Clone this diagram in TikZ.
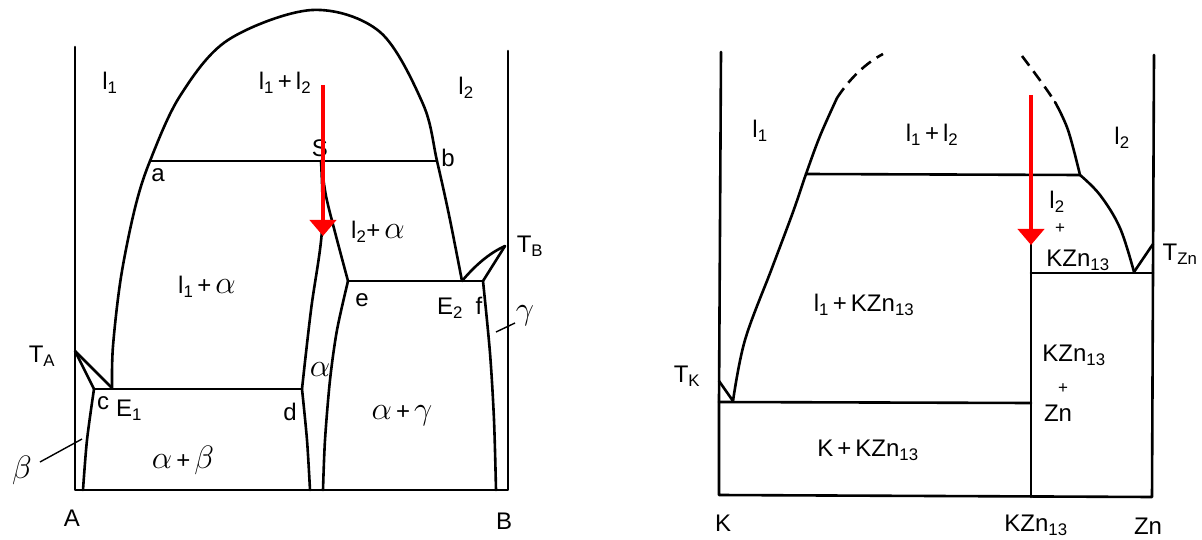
\documentclass[tikz,border=0pt]{standalone}
\usepackage{fontspec}
\usepackage{graphicx}
\setmainfont{Liberation Sans}
\usetikzlibrary{arrows.meta}
\tikzset{
  phase/.style={line width=2.6pt, line join=round, line cap=round},
  dashcurve/.style={line width=2.6pt, dash pattern=on 12pt off 7pt},
  thinlead/.style={line width=1.4pt},
  lbl/.style={font=\fontsize{24}{27}\selectfont, inner sep=0pt},
  redarrow/.style={draw={rgb,255:red,255;green,0;blue,0}, line width=4pt, -{Triangle[width=26pt,length=16pt]}}
}
\newcommand{\sbs}[1]{\textsubscript{#1}}
\newcommand{\gra}{\scalebox{1.3}{$\alpha$}}
\newcommand{\grb}{\scalebox{1.3}{$\beta$}}
\newcommand{\grg}{\scalebox{1.3}{$\gamma$}}
\begin{document}
\begin{tikzpicture}[x=1pt,y=-1pt]
\useasboundingbox (0,0) rectangle (1202,540);
\fill[white] (0,0) rectangle (1202,540);

% ================= LEFT DIAGRAM =================
\draw[phase] (75,47) -- (75,490) -- (508,490) -- (508,51);
% dome + liquidus
\draw[phase] plot[smooth, tension=0.55] coordinates {(112,388) (113,346) (121,277) (135,208) (150,161) (180,96) (228,40) (312,10) (380,32) (423,104) (437,161) (449,215) (462,281)};
% monotectic line a-b
\draw[phase] (150,161) -- (437,161);
% TA
\coordinate (TA) at (75,351);
\draw[phase] (TA) -- (112,388);
\draw[phase] (TA) -- (94,389);
% eutectic c-d
\draw[phase] (94,389) -- (302,389);
% beta solvus
\draw[phase] plot[smooth] coordinates {(94,389) (87,440) (83,490)};
\draw[thinlead] (40,462) -- (82,439);
% alpha boundaries
\draw[phase] plot[smooth, tension=0.6] coordinates {(321,161) (322,230) (311,310) (302,389)};
\draw[phase] plot[smooth] coordinates {(302,389) (307,440) (310,490)};
\draw[phase] plot[smooth] coordinates {(321,161) (326,196) (336,236) (348,281)};
\draw[phase] plot[smooth] coordinates {(348,281) (337,330) (330,380) (325,440) (323,490)};
% eutectic e-f
\draw[phase] (348,281) -- (483,281);
% TB
\coordinate (TB) at (505,246);
\draw[phase] (462,281) .. controls (478,262) and (492,252) .. (TB);
\draw[phase] (TB) -- (483,281);
% gamma solvus
\draw[phase] plot[smooth] coordinates {(483,281) (490,353) (494,420) (496,490)};
\draw[thinlead] (496,332) -- (515,323);

% labels left
\node[lbl] (l1L) at (110,83) {l\sbs{1}};
\node[lbl] (l12L) at (285,83) {l\sbs{1}\,+\,l\sbs{2}};
\node[lbl] (l2L) at (466,88) {l\sbs{2}};
\node[lbl] (SL) at (320,148) {S};
\node[lbl] (aL) at (158,175) {a};
\node[lbl] (bL) at (448,158) {b};
\node[lbl] (l2aL) at (378,232) {l\sbs{2}+\,\gra};
\node[lbl] (TBL) at (530,246) {T\sbs{B}};
\node[lbl] (l1aL) at (207,287) {l\sbs{1}\,+\,\gra};
\node[lbl] (eL) at (362,300) {e};
\node[lbl] (E2L) at (450,308) {E\sbs{2}};
\node[lbl] (fL) at (479,306) {f};
\node[lbl] (gL) at (525,316) {\grg};
\node[lbl] (TAL) at (42,356) {T\sbs{A}};
\node[lbl] (aphL) at (320,370) {\gra};
\node[lbl] (cL) at (103,403) {c};
\node[lbl] (E1L) at (129,410) {E\sbs{1}};
\node[lbl] (dL) at (290,412) {d};
\node[lbl] (agL) at (402,416) {\gra\,+\,\grg};
\node[lbl] (abL) at (183,460) {\gra\,+\,\grb};
\node[lbl] (betaL) at (22,470) {\grb};
\node[lbl] (AL) at (72,518) {A};
\node[lbl] (BL) at (504,521) {B};

% red arrow left
\coordinate (arrL1) at (323,85);
\coordinate (arrL2) at (323,236);
\draw[redarrow] (arrL1) -- (arrL2);

% ================= RIGHT DIAGRAM =================
\draw[phase] (721,52) -- (719,401) -- (719,495) -- (1152,497) -- (1153,272) -- (1154,55);
% eutectic
\draw[phase] (719,402) -- (1031,403);
% compound line
\draw[phase] (1031,175) -- (1031,497);
% monotectic
\draw[phase] (806,174) -- (1080,175);
% upper line
\draw[phase] (1031,273) -- (1153,273);
% TK
\coordinate (TK) at (719,381);
\draw[phase] (TK) -- (733,401);
% left liquidus
\draw[phase] plot[smooth, tension=0.6] coordinates {(733,401) (745,340) (772,268) (793,212) (806,174) (820,136) (837,98)};
\draw[dashcurve] (837,98) .. controls (850,78) and (866,63) .. (883,54);
% right curve
\draw[dashcurve] (1022,56) .. controls (1034,72) and (1046,88) .. (1055,102);
\draw[phase] plot[smooth, tension=0.6] coordinates {(1055,102) (1068,130) (1080,175)};
\draw[phase] plot[smooth, tension=0.6] coordinates {(1080,175) (1100,195) (1120,228) (1134,272)};
\coordinate (TZn) at (1153,244);
\draw[phase] (1134,272) -- (TZn);

% labels right
\node[lbl] (l1R) at (760,131) {l\sbs{1}};
\node[lbl] (l12R) at (932,135) {l\sbs{1}\,+\,l\sbs{2}};
\node[lbl] (l2R) at (1122,138) {l\sbs{2}};
\node[lbl] (l2bR) at (1057,202) {l\sbs{2}};
\node[lbl, font=\fontsize{17}{20}\selectfont] (plusR1) at (1060,229) {+};
\node[lbl] (kz1R) at (1078,260) {KZn\sbs{13}};
\node[lbl] (TZnR) at (1180,254) {T\sbs{Zn}};
\node[lbl] (l1kR) at (864,305) {l\sbs{1}\,+\,KZn\sbs{13}};
\node[lbl] (kz2R) at (1074,355) {KZn\sbs{13}};
\node[lbl, font=\fontsize{17}{20}\selectfont] (plusR2) at (1063,389) {+};
\node[lbl] (ZnR) at (1058,413) {Zn};
\node[lbl] (TKR) at (687,376) {T\sbs{K}};
\node[lbl] (kkR) at (868,450) {K\,+\,KZn\sbs{13}};
\node[lbl] (KR) at (723,523) {K};
\node[lbl] (kz3R) at (1036,525) {KZn\sbs{13}};
\node[lbl] (Zn2R) at (1148,526) {Zn};

% red arrow right
\coordinate (arrR1) at (1031,95);
\coordinate (arrR2) at (1031,245);
\draw[redarrow] (arrR1) -- (arrR2);
\end{tikzpicture}
\end{document}
